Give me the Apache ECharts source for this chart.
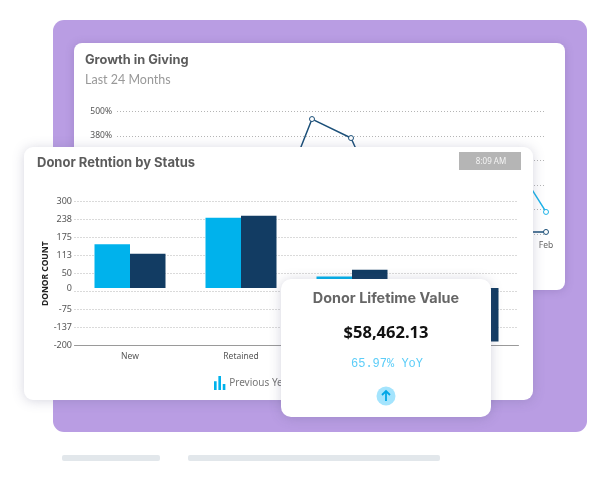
<!DOCTYPE html>
<html><head><meta charset="utf-8">
<style>html,body{margin:0;padding:0;background:#fff}#c{width:600px;height:480px}</style>
<script src="https://cdn.jsdelivr.net/npm/echarts@6/dist/echarts.min.js"></script>
</head><body><div id="c"></div>
<script>
const months=['Mar','Apr','May','Jun','Jul','Aug','Sep','Oct','Nov','Dec','Jan','Feb'];
const growthDark=[60,20,90,40,-20,463,370,-50,-30,-60,-90,-90];
const growthLight=[40,70,30,60,50,120,180,90,140,210,312,8];
const growthTicks=[500,380,260,140,20,-100];
const statuses=['New','Retained','Recaptured','Lapsed'];
const previousYear=[152,244,40,-170];
const currentYear=[119,251,64,-185];
const donorLabels=[300,237.5,175,112.5,50,0,-75,-137.5,-200];
const TITLE_FONT='Inter';
const chart=echarts.init(document.getElementById('c'),null,{renderer:'canvas'});
const card=(x,y,w,h,r,z,blur,sc)=>({type:'rect',z,silent:true,shape:{x,y,width:w,height:h,r},
  style:{fill:'#fff',shadowBlur:blur,shadowColor:sc,shadowOffsetX:0,shadowOffsetY:1}});
const txt=(x,y,t,font,fill,z,align)=>({type:'text',z,silent:true,x,y,
  style:{text:t,font,fill,align:align||'left',verticalAlign:'middle'}});
const gridDot={show:true,lineStyle:{type:[1,2],color:'#b5b5b5',width:1}};
const barIcon='path://M0 6H3V16H0ZM5 0H8V16H5ZM10 9H13V16H10Z';
chart.setOption({
  animation:false,backgroundColor:'#fff',
  grid:[{left:117,right:54,top:111.5,height:122.5},{left:74.5,right:81.5,top:201.7,height:144}],
  xAxis:[
    {type:'category',gridIndex:0,data:months,boundaryGap:false,z:3,axisLine:{show:false},axisTick:{show:false},
     axisLabel:{interval:0,margin:7,fontFamily:'Noto Sans',fontSize:8.5,color:'#666'}},
    {type:'category',gridIndex:1,data:statuses,z:6,axisLine:{show:true,onZero:false,lineStyle:{color:'#9a9a9a',width:1}},axisTick:{show:false},
     axisLabel:{margin:6,fontFamily:'Noto Sans',fontSize:8.5,color:'#555'}}
  ],
  yAxis:[
    {type:'value',gridIndex:0,min:-100,max:500,z:3,axisLine:{show:false},axisTick:{show:false,customValues:growthTicks},
     splitLine:gridDot,
     axisLabel:{customValues:growthTicks,margin:5,fontFamily:'Noto Sans',fontSize:8.5,color:'#555',formatter:v=>v+'%'}},
    {type:'value',gridIndex:1,min:-200,max:300,interval:62.5,z:6,axisLine:{show:false},axisTick:{show:false},
     splitLine:gridDot,
     name:'DONOR COUNT',nameLocation:'middle',nameGap:24,nameRotate:90,nameMoveOverlap:false,
     nameTextStyle:{fontFamily:'Noto Sans',fontSize:8.5,fontWeight:'bold',color:'#222'},
     axisLabel:{customValues:donorLabels,margin:2.5,fontFamily:'Noto Sans',fontSize:9,color:'#555',formatter:v=>String(Math.round(v))}}
  ],
  legend:{show:true,z:7,left:209,top:371,itemWidth:17,itemHeight:14,itemGap:12,
    data:[{name:'Previous Year',icon:barIcon},{name:'Current Year',icon:barIcon}],
    textStyle:{fontFamily:'Noto Sans',fontSize:10,color:'#777',padding:[0,0,0,-4]}},
  series:[
    {type:'line',name:'Growth Previous',xAxisIndex:0,yAxisIndex:0,z:4,data:growthLight,symbol:'circle',symbolSize:5,
     lineStyle:{color:'#1db4ea',width:1.5},itemStyle:{color:'#fff',borderColor:'#1db4ea',borderWidth:1}},
    {type:'line',name:'Growth Current',xAxisIndex:0,yAxisIndex:0,z:4,data:growthDark,symbol:'circle',symbolSize:5,
     lineStyle:{color:'#1c5079',width:1.5},itemStyle:{color:'#fff',borderColor:'#1c5079',borderWidth:1}},
    {type:'bar',name:'Previous Year',xAxisIndex:1,yAxisIndex:1,z:7,data:previousYear,barWidth:35.5,barGap:0,itemStyle:{color:'#00b2ec'}},
    {type:'bar',name:'Current Year',xAxisIndex:1,yAxisIndex:1,z:7,data:currentYear,barWidth:35.5,barGap:0,itemStyle:{color:'#123c63'}}
  ],
  color:['#00b2ec','#123c63'],
  graphic:{elements:[
    {type:'rect',z:1,silent:true,shape:{x:53,y:20,width:534,height:412,r:11},style:{fill:'#b99de3'}},
    card(74,43,491,247,8,2,8,'rgba(90,70,130,0.25)'),
    txt(85,60,'Growth in Giving',"bold 12.8px "+TITLE_FONT,'#5c5c5c',3),
    txt(85,80,'Last 24 Months',"12.5px Lato",'#999',3),
    card(24,147,509,253,9,5,12,'rgba(90,90,130,0.25)'),
    txt(37,163,'Donor Retntion by Status',"bold 13px "+TITLE_FONT,'#5c5c5c',6),
    {type:'rect',z:6,silent:true,shape:{x:459,y:152,width:62,height:18},style:{fill:'#b5b5b5'}},
    txt(491,161.5,'8:09 AM',"8px 'Noto Sans'",'#f4f4f4',7,'center'),
    card(281,279,210,138,10,8,12,'rgba(80,80,120,0.25)'),
    txt(386,299,'Donor Lifetime Value',"bold 14.4px "+TITLE_FONT,'#666',9,'center'),
    txt(386,333,'$58,462.13',"bold 16.5px 'Noto Sans'",'#111',9,'center'),
    txt(387,364,'65.97% YoY',"12px 'Liberation Mono'",'#5ccdf8',9,'center'),
    {type:'circle',z:9,silent:true,shape:{cx:386,cy:396,r:9.5},style:{fill:'#a4e4fd'}},
    {type:'polyline',z:10,silent:true,shape:{points:[[386,401],[386,391.5]]},style:{stroke:'#00a6e6',lineWidth:1.8,fill:null}},
    {type:'polyline',z:10,silent:true,shape:{points:[[382,395],[386,391],[390,395]]},style:{stroke:'#00a6e6',lineWidth:1.8,fill:null}},
    {type:'rect',z:1,silent:true,shape:{x:62,y:455,width:98,height:6,r:2},style:{fill:'#e2e7eb'}},
    {type:'rect',z:1,silent:true,shape:{x:188,y:455,width:252,height:6,r:2},style:{fill:'#e2e7eb'}}
  ]}
});
</script></body></html>
